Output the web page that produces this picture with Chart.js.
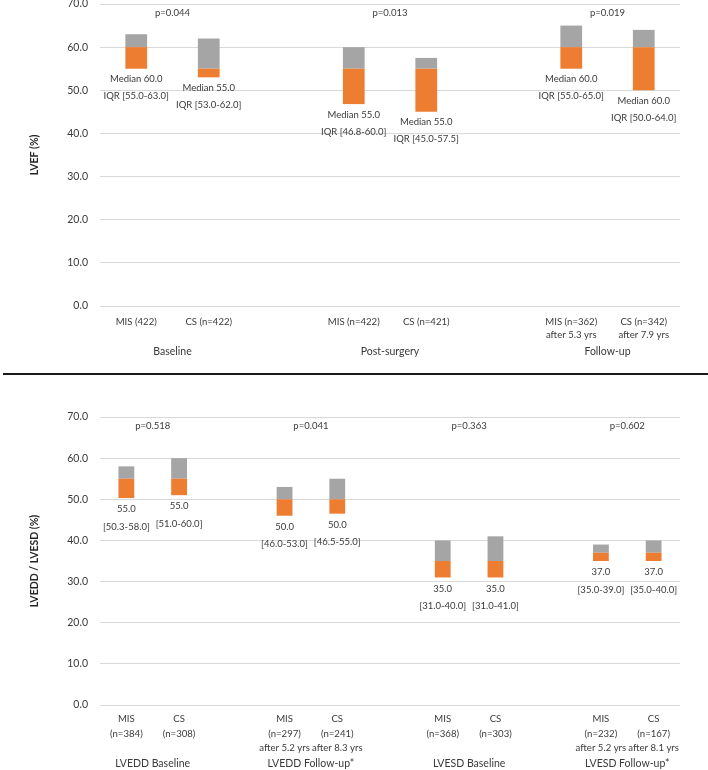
<!DOCTYPE html>
<html>
<head>
<meta charset="utf-8">
<script src="https://cdn.jsdelivr.net/npm/chart.js@4.4.1/dist/chart.umd.min.js"></script>
<style>
    body { margin: 0; width: 708px; height: 770px; background: #fff; position: relative; overflow: hidden; }
    canvas { position: absolute; left: 0; }
    #lvef-chart { top: -20px; }
    #lvedd-chart { top: 376px; }
    .divider { position: absolute; left: 3px; right: 0; top: 373px; height: 2px; background: #1a1a1a; }
</style>
</head>
<body>
<canvas id="lvef-chart" width="708" height="392"></canvas>
<div class="divider"></div>
<canvas id="lvedd-chart" width="708" height="394"></canvas>
<script>
// top panel - LVEF, empty slots ('') keep the gap between groups
const lvefLabels = ['MIS (422)', 'CS (n=422)', '', 'MIS (n=422)', 'CS (n=421)', '',
    ['MIS (n=362)', 'after 5.3 yrs'], ['CS (n=342)', 'after 7.9 yrs']];
const lvefQ1 = [55.0, 53.0, null, 46.8, 45.0, null, 55.0, 50.0];
const lvefMedian = [60.0, 55.0, null, 55.0, 55.0, null, 60.0, 60.0];
const lvefQ3 = [63.0, 62.0, null, 60.0, 57.5, null, 65.0, 64.0];
const lvefGroups = ['Baseline', 'Post-surgery', 'Follow-up'];
const lvefPValues = ['p=0.044', 'p=0.013', 'p=0.019'];
const lvefGroupSlots = [[0, 1], [3, 4], [6, 7]];

// bottom panel - LVEDD / LVESD
const diamLabels = [['MIS', '(n=384)'], ['CS', '(n=308)'], '',
    ['MIS', '(n=297)', 'after 5.2 yrs'], ['CS', '(n=241)', 'after 8.3 yrs'], '',
    ['MIS', '(n=368)'], ['CS', '(n=303)'], '',
    ['MIS', '(n=232)', 'after 5.2 yrs'], ['CS', '(n=167)', 'after 8.1 yrs']];
const diamQ1 = [50.3, 51.0, null, 46.0, 46.5, null, 31.0, 31.0, null, 35.0, 35.0];
const diamMedian = [55.0, 55.0, null, 50.0, 50.0, null, 35.0, 35.0, null, 37.0, 37.0];
const diamQ3 = [58.0, 60.0, null, 53.0, 55.0, null, 40.0, 41.0, null, 39.0, 40.0];
const diamGroups = ['LVEDD Baseline', 'LVEDD Follow-up*', 'LVESD Baseline', 'LVESD Follow-up*'];
const diamPValues = ['p=0.518', 'p=0.041', 'p=0.363', 'p=0.602'];
const diamGroupSlots = [[0, 1], [3, 4], [6, 7], [9, 10]];

const ORANGE = '#ED7D31';
const GRAY = '#A5A5A5';
const TEXT = '#3a3a3a';
const FONT = 'Lato, "Open Sans", sans-serif';

function fmt(v) {
    return v.toFixed(1);
}

//draws the median/IQR text under each bar, the p-values and the group names
function annotations(opts) {
    return {
        id: 'annotations',
        afterDatasetsDraw(chart) {
            const ctx = chart.ctx;
            const x = chart.scales.x;
            const y = chart.scales.y;
            const area = chart.chartArea;
            ctx.save();
            ctx.fillStyle = TEXT;
            ctx.textAlign = 'center';
            ctx.textBaseline = 'middle';

            ctx.font = `${opts.labelSize}px ${FONT}`;
            opts.q1.forEach((low, i) => {
                if (low == null) return;
                const px = x.getPixelForValue(i);
                const bottom = y.getPixelForValue(low);
                const lines = opts.labelText(low, opts.median[i], opts.q3[i]);
                ctx.fillText(lines[0], px, bottom + opts.line1);
                ctx.fillText(lines[1], px, bottom + opts.line2);
            });

            opts.groupSlots.forEach((slots, g) => {
                const cx = (x.getPixelForValue(slots[0]) + x.getPixelForValue(slots[1])) / 2;
                ctx.font = `${opts.labelSize}px ${FONT}`;
                ctx.fillText(opts.pValues[g], cx, area.top + opts.pOffset);
                ctx.font = `${opts.groupSize}px ${FONT}`;
                ctx.fillText(opts.groups[g], cx, area.bottom + opts.groupOffset);
            });
            ctx.restore();
        }
    };
}

function renderPanel(id, cfg) {
    const lower = cfg.q1.map((v, i) => v == null ? null : [v, cfg.median[i]]);
    const upper = cfg.q1.map((v, i) => v == null ? null : [cfg.median[i], cfg.q3[i]]);

    return new Chart(document.getElementById(id).getContext('2d'), {
        type: 'bar',
        data: {
            labels: cfg.labels,
            datasets: [{
                label: 'Q1 - median',
                data: lower,
                backgroundColor: ORANGE,
                borderWidth: 0,
                grouped: false,
                barPercentage: 0.3,
                categoryPercentage: 1
            }, {
                label: 'median - Q3',
                data: upper,
                backgroundColor: GRAY,
                borderWidth: 0,
                grouped: false,
                barPercentage: 0.3,
                categoryPercentage: 1
            }]
        },
        options: {
            responsive: false,
            animation: false,
            layout: {
                padding: { top: cfg.padTop, right: 28, bottom: 0, left: 0 }
            },
            scales: {
                x: {
                    grid: { display: false, drawTicks: false },
                    border: { display: false },
                    ticks: {
                        autoSkip: false,
                        maxRotation: 0,
                        minRotation: 0,
                        padding: cfg.xPad,
                        color: TEXT,
                        font: { family: FONT, size: 9.6, lineHeight: cfg.xLineHeight }
                    },
                    afterFit: scale => { scale.height = cfg.xHeight; }
                },
                y: {
                    min: 0,
                    max: 70,
                    grid: { color: '#D9D9D9', drawTicks: false },
                    border: { display: false },
                    ticks: {
                        stepSize: 10,
                        padding: 12,
                        color: TEXT,
                        font: { family: FONT, size: 10.5 },
                        callback: v => fmt(v)
                    },
                    title: {
                        display: true,
                        text: cfg.yTitle,
                        color: '#262626',
                        padding: { top: 28, bottom: 0 },
                        font: { family: FONT, size: 10.5, weight: 'bold' }
                    },
                    afterFit: scale => { scale.width = 100; }
                }
            },
            plugins: {
                legend: { display: false },
                tooltip: { enabled: false }
            }
        },
        plugins: [annotations({
            q1: cfg.q1, median: cfg.median, q3: cfg.q3,
            groups: cfg.groups, pValues: cfg.pValues, groupSlots: cfg.groupSlots,
            labelText: cfg.labelText,
            labelSize: 9.5, groupSize: 10.5,
            line1: cfg.line1, line2: cfg.line2,
            pOffset: 9, groupOffset: cfg.groupOffset
        })]
    });
}

renderPanel('lvef-chart', {
    labels: lvefLabels, q1: lvefQ1, median: lvefMedian, q3: lvefQ3,
    groups: lvefGroups, pValues: lvefPValues, groupSlots: lvefGroupSlots,
    yTitle: 'LVEF (%)',
    labelText: (lo, med, hi) => [`Median ${fmt(med)}`, `IQR [${fmt(lo)}-${fmt(hi)}]`],
    padTop: 24, xHeight: 66, xPad: 9, xLineHeight: 1.4,
    line1: 10.5, line2: 27.5, groupOffset: 46
});

renderPanel('lvedd-chart', {
    labels: diamLabels, q1: diamQ1, median: diamMedian, q3: diamQ3,
    groups: diamGroups, pValues: diamPValues, groupSlots: diamGroupSlots,
    yTitle: 'LVEDD / LVESD (%)',
    labelText: (lo, med, hi) => [fmt(med), `[${fmt(lo)}-${fmt(hi)}]`],
    padTop: 41, xHeight: 65, xPad: 7, xLineHeight: 1.5,
    line1: 11, line2: 28.5, groupOffset: 59
});
</script>
</body>
</html>
